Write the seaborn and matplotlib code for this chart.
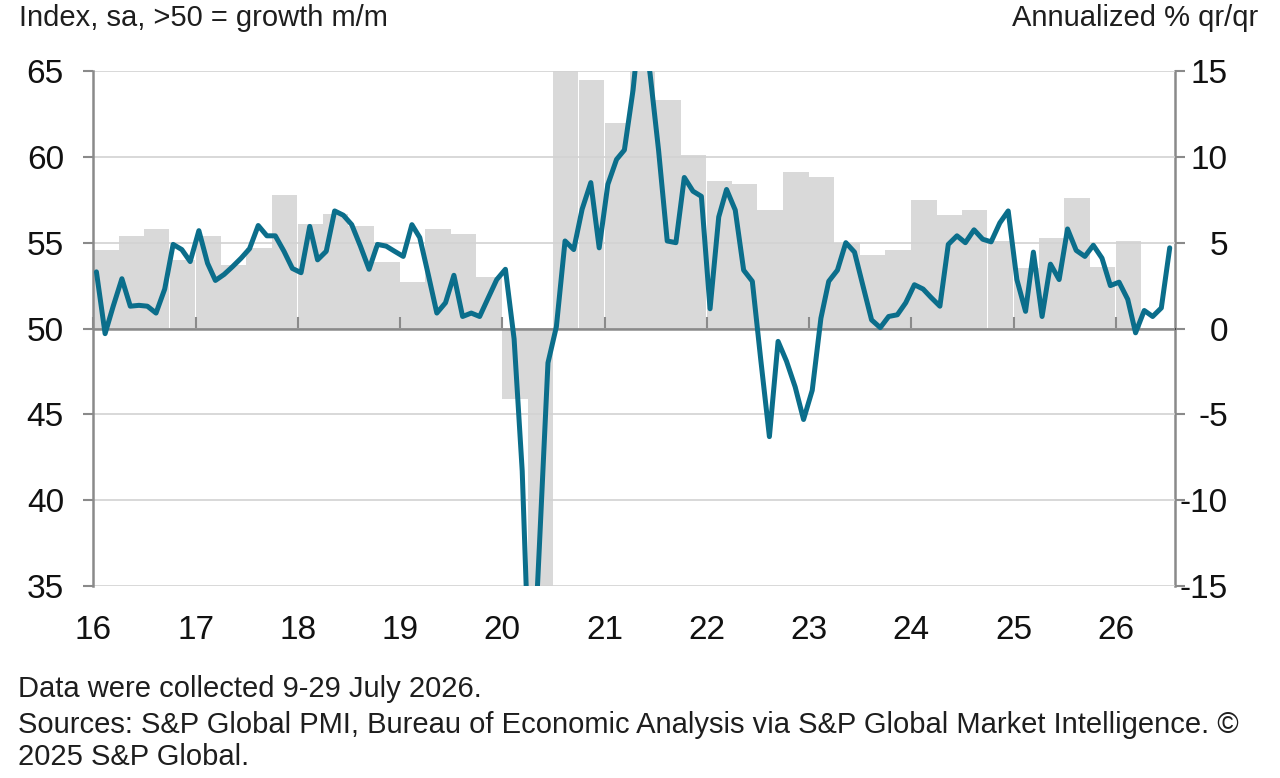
import matplotlib
matplotlib.use('Agg')
import matplotlib.pyplot as plt
import numpy as np
import pandas as pd
import seaborn as sns

# Monthly composite PMI (Jan 2016 .. Jul 2026)
pmi = [53.3, 49.7, 51.3, 52.9, 51.3, 51.35, 51.3, 50.9, 52.3, 54.9, 54.6, 53.9,
       55.7, 53.8, 52.8, 53.15, 53.6, 54.1, 54.65, 56.0, 55.4, 55.4, 54.5, 53.5,
       53.25, 55.95, 54.0, 54.5, 56.85, 56.6, 56.05, 54.8, 53.45, 54.9, 54.8, 54.5,
       54.2, 56.05, 55.3, 53.1, 50.9, 51.5, 53.1, 50.7, 50.9, 50.7, 51.8, 52.85,
       53.45, 49.4, 41.7, 27.0, 37.2, 48.0, 50.1, 55.1, 54.6, 56.95, 58.5, 54.7,
       58.4, 59.85, 60.4, 63.9, 68.7, 64.8, 60.4, 55.1, 55.0, 58.8, 58.0, 57.7,
       51.15, 56.5, 58.1, 56.9, 53.4, 52.75, 48.2, 43.7, 49.25, 48.1, 46.6, 44.7,
       46.4, 50.6, 52.75, 53.4, 55.0, 54.45, 52.5, 50.5, 50.05, 50.7, 50.8, 51.5,
       52.55, 52.3, 51.8, 51.3, 54.9, 55.4, 55.0, 55.75, 55.2, 55.05, 56.15, 56.85,
       52.85, 51.0, 54.45, 50.7, 53.75, 52.85, 55.8, 54.55, 54.2, 54.85, 54.1, 52.5,
       52.7, 51.7, 49.75, 51.05, 50.7, 51.2, 54.7]

# Quarterly GDP, annualized % q/q (Q1 2016 .. Q1 2026)
gdp = [4.6, 5.4, 5.8, 4.0,
       5.4, 3.7, 4.7, 7.8,
       6.1, 6.7, 6.0, 3.9,
       2.7, 5.8, 5.5, 3.0,
       -4.1, -28.0, 35.0, 14.5,
       12.0, 16.0, 13.3, 10.1,
       8.6, 8.4, 6.9, 9.1,
       8.8, 5.0, 4.3, 4.6,
       7.5, 6.6, 6.9, 5.1,
       3.5, 5.3, 7.6, 3.6,
       5.1]

year_labels = ['16', '17', '18', '19', '20', '21', '22', '23', '24', '25', '26']
left_ticks = [35, 40, 45, 50, 55, 60, 65]
right_ticks = [-15, -10, -5, 0, 5, 10, 15]

months = pd.date_range('2016-01-01', periods=len(pmi), freq='MS') + pd.Timedelta(days=12)
quarters = pd.date_range('2016-01-01', periods=len(gdp), freq='QS')
years = pd.date_range('2016-01-01', periods=len(year_labels), freq='YS')
df = pd.DataFrame({'date': months, 'pmi': pmi})

sns.set_theme(style='white')
plt.rcParams['font.family'] = ['Liberation Sans', 'DejaVu Sans']

LINE = '#0b6e8b'
BAR = '#d9d9d9'
AXIS = '#8a8a8a'

fig, ax = plt.subplots(figsize=(12.8, 7.78), dpi=100)
fig.subplots_adjust(left=0.0727, right=0.918, bottom=0.2468, top=0.9087)
ax2 = ax.twinx()

# GDP bars on the right axis, drawn underneath
ax2.bar(quarters, gdp, width=91, align='edge', color=BAR, linewidth=0, zorder=1)
ax2.set_ylim(-15, 15)
ax2.set_yticks(right_ticks)
ax2.set_yticklabels([str(t) for t in right_ticks], ha='right')
ax2.tick_params(axis='y', direction='out', length=7, width=1.5, color=AXIS,
                labelsize=24, labelcolor='#111111', pad=31)
for s in ['top', 'left', 'bottom']:
    ax2.spines[s].set_visible(False)
ax2.spines['right'].set_color(AXIS)
ax2.spines['right'].set_linewidth(1.8)

# PMI line on the left axis, on top
ax.set_zorder(ax2.get_zorder() + 1)
ax.patch.set_visible(False)
ax.set_axisbelow(True)
ax.grid(axis='y', color='#d2d2d2', linewidth=1.2)
ax.grid(axis='x', visible=False)
ax.axhline(50, color=AXIS, linewidth=1.8, zorder=2)
sns.lineplot(data=df, x='date', y='pmi', ax=ax, color=LINE, linewidth=3.6, zorder=3)

ax.set_ylim(35, 65)
ax.set_yticks(left_ticks)
ax.tick_params(axis='y', direction='out', length=7, width=1.5, color=AXIS,
               labelsize=24, labelcolor='#111111', pad=14)
ax.set_xlim(pd.Timestamp('2016-01-01'), pd.Timestamp('2026-08-01'))
ax.set_xticks(years)
ax.set_xticklabels(year_labels)
ax.tick_params(axis='x', length=0, labelsize=24, labelcolor='#111111', pad=21)
ax.set_xlabel('')
ax.set_ylabel('')
for s in ['top', 'right', 'bottom']:
    ax.spines[s].set_visible(False)
ax.spines['left'].set_color(AXIS)
ax.spines['left'].set_linewidth(1.8)

# year tick marks hanging off the 50 line
sec = ax.secondary_xaxis(0.5)
sec.set_xticks(years)
sec.set_xticklabels([''] * len(years))
sec.tick_params(axis='x', direction='out', length=9, width=1.5, color=AXIS,
                labelbottom=False, labeltop=False)
sec.spines['bottom'].set_visible(False)

txt = '#1e1e1e'
fs = 21
fig.text(0.015, 0.977, 'Index, sa, >50 = growth m/m', fontsize=fs, color=txt, va='center', ha='left')
fig.text(0.983, 0.977, 'Annualized % qr/qr', fontsize=fs, color=txt, va='center', ha='right')
fig.text(0.014, 0.115, 'Data were collected 9-29 July 2026.', fontsize=fs, color=txt, va='center')
fig.text(0.014, 0.068, 'Sources: S&P Global PMI, Bureau of Economic Analysis via S&P Global Market Intelligence. \u00a9',
         fontsize=fs, color=txt, va='center')
fig.text(0.014, 0.027, '2025 S&P Global.', fontsize=fs, color=txt, va='center')

plt.savefig('out.png', dpi=100)
